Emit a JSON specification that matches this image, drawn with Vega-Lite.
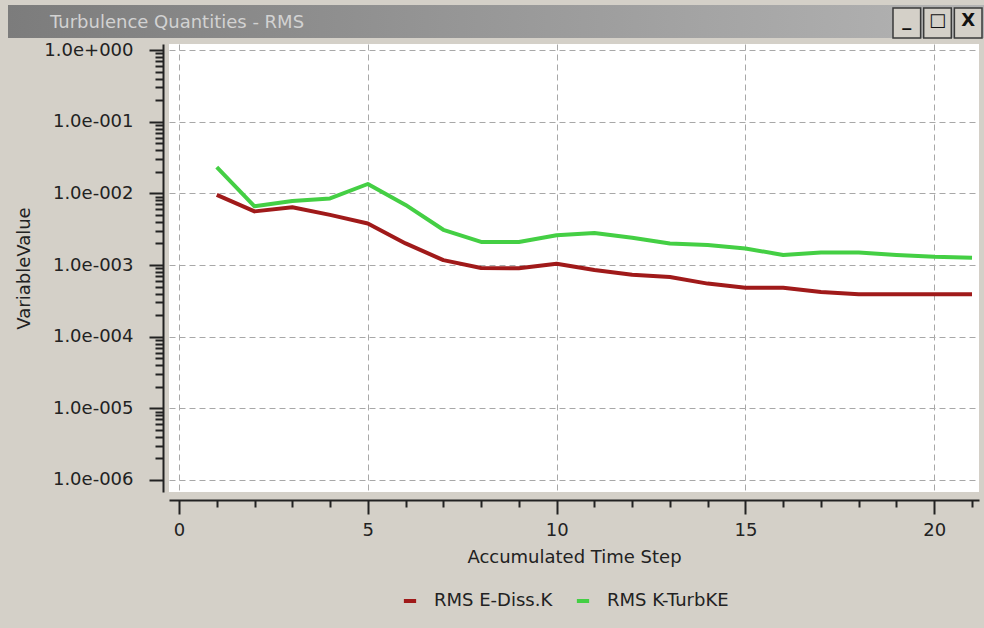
{
  "$schema": "https://vega.github.io/schema/vega-lite/v6.json",
  "background": "#d4d0c8",
  "padding": {"left": 8, "top": 5, "right": 0, "bottom": 18},
  "spacing": 2,
  "bounds": "full",
  "config": {
    "font": "DejaVu Sans",
    "view": {"stroke": null},
    "axis": {"labelFont": "DejaVu Sans", "titleFont": "DejaVu Sans", "labelColor": "#222222", "titleColor": "#222222", "titleFontWeight": "normal"}
  },
  "vconcat": [
    {
      "width": 976,
      "height": 33,
      "view": {"fill": {"gradient": "linear", "x1": 0, "x2": 1, "y1": 0, "y2": 0, "stops": [{"offset": 0, "color": "#7c7c7c"}, {"offset": 1, "color": "#b4b4b4"}]}, "stroke": null},
      "title": {"text": "Turbulence Quantities - RMS", "anchor": "start", "frame": "group", "offset": -27, "dx": 42, "fontSize": 18, "font": "DejaVu Sans", "fontWeight": "normal", "color": "#d2d2d2"},
      "data": {"values": [{"b": "_"}, {"b": "□"}, {"b": "X"}]},
      "layer": [
        {
          "mark": {"type": "rect", "fill": "#d4d0c8", "stroke": "#3a3a3a", "strokeWidth": 1.5, "yOffset": 3, "y2Offset": -5},
          "encoding": {
            "x": {"field": "b", "type": "nominal", "sort": null, "scale": {"domain": ["_", "□", "X"], "range": [885, 974], "paddingInner": 0.1, "paddingOuter": 0}, "axis": null}
          }
        },
        {
          "mark": {"type": "text", "fontSize": 18, "fontWeight": "bold", "color": "#111111", "dy": -1},
          "encoding": {
            "x": {"field": "b", "type": "nominal", "sort": null, "scale": {"domain": ["_", "□", "X"], "range": [885, 974], "paddingInner": 0.1, "paddingOuter": 0}, "axis": null},
            "text": {"field": "b"}
          }
        }
      ]
    },
    {
      "spacing": 0,
      "bounds": "full",
      "hconcat": [
        {
          "width": 7,
          "height": 1,
          "data": {"values": []},
          "mark": "point"
        },
        {
          "width": 810,
          "height": 448,
          "view": {"fill": "white", "stroke": null},
          "data": {"values": [
            {"t": 1, "series": "RMS E-Diss.K", "v": 0.0095},
            {"t": 2, "series": "RMS E-Diss.K", "v": 0.0056},
            {"t": 3, "series": "RMS E-Diss.K", "v": 0.0064},
            {"t": 4, "series": "RMS E-Diss.K", "v": 0.0050},
            {"t": 5, "series": "RMS E-Diss.K", "v": 0.0038},
            {"t": 6, "series": "RMS E-Diss.K", "v": 0.0020},
            {"t": 7, "series": "RMS E-Diss.K", "v": 0.00117},
            {"t": 8, "series": "RMS E-Diss.K", "v": 0.00091},
            {"t": 9, "series": "RMS E-Diss.K", "v": 0.00090},
            {"t": 10, "series": "RMS E-Diss.K", "v": 0.00104},
            {"t": 11, "series": "RMS E-Diss.K", "v": 0.00085},
            {"t": 12, "series": "RMS E-Diss.K", "v": 0.00073},
            {"t": 13, "series": "RMS E-Diss.K", "v": 0.00068},
            {"t": 14, "series": "RMS E-Diss.K", "v": 0.00055},
            {"t": 15, "series": "RMS E-Diss.K", "v": 0.00048},
            {"t": 16, "series": "RMS E-Diss.K", "v": 0.00048},
            {"t": 17, "series": "RMS E-Diss.K", "v": 0.00042},
            {"t": 18, "series": "RMS E-Diss.K", "v": 0.00039},
            {"t": 19, "series": "RMS E-Diss.K", "v": 0.00039},
            {"t": 20, "series": "RMS E-Diss.K", "v": 0.00039},
            {"t": 21, "series": "RMS E-Diss.K", "v": 0.00039},
            {"t": 1, "series": "RMS K-TurbKE", "v": 0.0233},
            {"t": 2, "series": "RMS K-TurbKE", "v": 0.0066},
            {"t": 3, "series": "RMS K-TurbKE", "v": 0.0078},
            {"t": 4, "series": "RMS K-TurbKE", "v": 0.0085},
            {"t": 5, "series": "RMS K-TurbKE", "v": 0.0135},
            {"t": 6, "series": "RMS K-TurbKE", "v": 0.0069},
            {"t": 7, "series": "RMS K-TurbKE", "v": 0.0031},
            {"t": 8, "series": "RMS K-TurbKE", "v": 0.0021},
            {"t": 9, "series": "RMS K-TurbKE", "v": 0.0021},
            {"t": 10, "series": "RMS K-TurbKE", "v": 0.0026},
            {"t": 11, "series": "RMS K-TurbKE", "v": 0.0028},
            {"t": 12, "series": "RMS K-TurbKE", "v": 0.0024},
            {"t": 13, "series": "RMS K-TurbKE", "v": 0.0020},
            {"t": 14, "series": "RMS K-TurbKE", "v": 0.0019},
            {"t": 15, "series": "RMS K-TurbKE", "v": 0.0017},
            {"t": 16, "series": "RMS K-TurbKE", "v": 0.00138},
            {"t": 17, "series": "RMS K-TurbKE", "v": 0.0015},
            {"t": 18, "series": "RMS K-TurbKE", "v": 0.0015},
            {"t": 19, "series": "RMS K-TurbKE", "v": 0.00138},
            {"t": 20, "series": "RMS K-TurbKE", "v": 0.0013},
            {"t": 21, "series": "RMS K-TurbKE", "v": 0.00126}
          ]},
          "mark": {"type": "line", "strokeWidth": 4, "strokeJoin": "round"},
          "encoding": {
            "x": {
              "field": "t", "type": "quantitative",
              "scale": {"domain": [-0.265, 21.185], "nice": false, "zero": false},
              "axis": {
                "title": "Accumulated Time Step",
                "values": [0,1,2,3,4,5,6,7,8,9,10,11,12,13,14,15,16,17,18,19,20,21],
                "labelExpr": "datum.value % 5 === 0 ? datum.label : ''",
                "labelOverlap": false,
                "labelFlush": false,
                "labelFontSize": 18,
                "labelPadding": 7,
                "titleFontSize": 18,
                "titlePadding": 9,
                "offset": 8,
                "domainColor": "#222222",
                "domainWidth": 2,
                "tickColor": "#222222",
                "tickWidth": 2,
                "tickSize": {"condition": {"test": "datum.value % 5 === 0", "value": 14}, "value": 7},
                "grid": true,
                "gridColor": "#a8a8a8",
                "gridDash": [6, 4],
                "gridWidth": 1,
                "gridOpacity": {"condition": {"test": "datum.value % 5 === 0", "value": 1}, "value": 0}
              }
            },
            "y": {
              "field": "v", "type": "quantitative",
              "scale": {"type": "log", "domain": [6.8e-7, 1.213], "nice": false},
              "axis": {
                "title": "VariableValue",
                "values": [1e-6,2e-6,3e-6,4e-6,5e-6,6e-6,7e-6,8e-6,9e-6,1e-5,2e-5,3e-5,4e-5,5e-5,6e-5,7e-5,8e-5,9e-5,1e-4,2e-4,3e-4,4e-4,5e-4,6e-4,7e-4,8e-4,9e-4,0.001,0.002,0.003,0.004,0.005,0.006,0.007,0.008,0.009,0.01,0.02,0.03,0.04,0.05,0.06,0.07,0.08,0.09,0.1,0.2,0.3,0.4,0.5,0.6,0.7,0.8,0.9,1],
                "labelExpr": "abs(log(datum.value)/LN10 - round(log(datum.value)/LN10)) < 0.001 ? '1.0e' + (round(log(datum.value)/LN10) < 0 ? '-' : '+') + '00' + abs(round(log(datum.value)/LN10)) : ''",
                "labelOverlap": false,
                "labelFlush": false,
                "labelFontSize": 18,
                "labelPadding": 16,
                "titleFontSize": 18,
                "titlePadding": 10,
                "offset": 6,
                "domainColor": "#222222",
                "domainWidth": 2,
                "tickColor": "#222222",
                "tickWidth": 2,
                "tickSize": {"condition": {"test": "abs(log(datum.value)/LN10 - round(log(datum.value)/LN10)) < 0.001", "value": 14}, "value": 8},
                "grid": true,
                "gridColor": "#a8a8a8",
                "gridDash": [6, 4],
                "gridWidth": 1,
                "gridOpacity": {"condition": {"test": "abs(log(datum.value)/LN10 - round(log(datum.value)/LN10)) < 0.001", "value": 1}, "value": 0}
              }
            },
            "color": {
              "field": "series", "type": "nominal",
              "scale": {"domain": ["RMS E-Diss.K", "RMS K-TurbKE"], "range": ["#a01a1a", "#44cf44"]},
              "legend": {
                "title": null,
                "orient": "none",
                "legendX": 393,
                "legendY": 587,
                "direction": "horizontal",
                "symbolType": "stroke",
                "symbolStrokeWidth": 4,
                "symbolSize": 150,
                "labelFont": "DejaVu Sans",
                "labelFontSize": 18,
                "labelColor": "#222222",
                "labelOffset": 15,
                "columnPadding": 15,
                "padding": 0
              }
            }
          }
        }
      ]
    }
  ]
}
